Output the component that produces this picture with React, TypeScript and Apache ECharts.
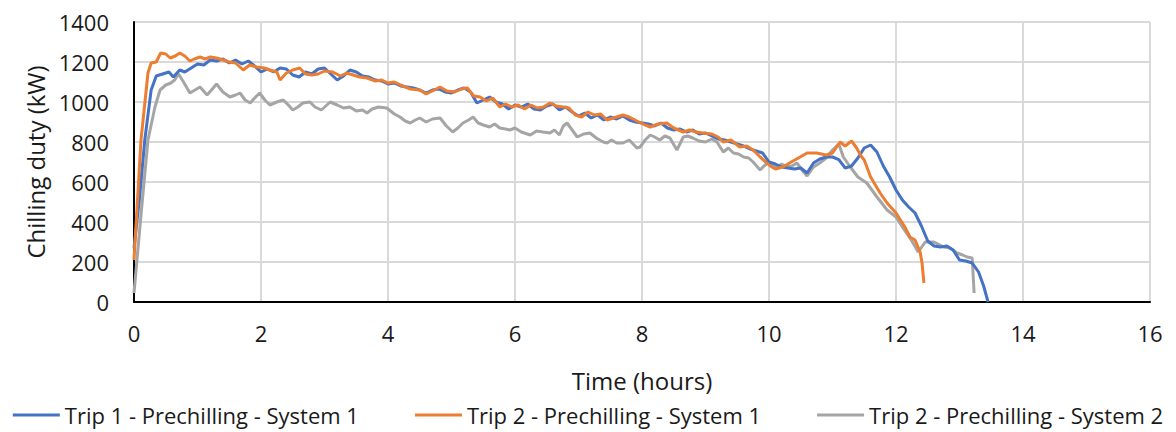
import React, { useEffect, useRef } from "react";
import * as echarts from "echarts";

const seriesNames = [
  "Trip 1 - Prechilling - System 1",
  "Trip 2 - Prechilling - System 1",
  "Trip 2 - Prechilling - System 2",
];
const colors = ["#4472c4", "#ed7d31", "#a5a5a5"];

const xTicks = [0, 2, 4, 6, 8, 10, 12, 14, 16];
const yTicks = [0, 200, 400, 600, 800, 1000, 1200, 1400];

// [time (hours), chilling duty (kW)]
const trip1Sys1: [number, number][] = [
  [0, 270], [0.08, 500], [0.17, 810], [0.27, 1060], [0.35, 1130], [0.45, 1140], [0.55, 1150], [0.62, 1125],
  [0.72, 1160], [0.8, 1150], [0.9, 1170], [1.0, 1190], [1.1, 1185], [1.2, 1210], [1.3, 1205], [1.4, 1215],
  [1.5, 1195], [1.6, 1210], [1.7, 1190], [1.8, 1205], [1.9, 1180], [2.0, 1150], [2.1, 1165], [2.2, 1150],
  [2.3, 1170], [2.4, 1165], [2.5, 1135], [2.6, 1125], [2.7, 1150], [2.8, 1140], [2.9, 1165], [3.0, 1170],
  [3.1, 1140], [3.2, 1110], [3.3, 1130], [3.4, 1160], [3.5, 1150], [3.6, 1130], [3.7, 1125], [3.8, 1110],
  [3.9, 1105], [4.0, 1090], [4.1, 1095], [4.2, 1080], [4.3, 1075], [4.4, 1070], [4.5, 1060], [4.6, 1045],
  [4.7, 1060], [4.8, 1065], [4.9, 1050], [5.0, 1045], [5.1, 1060], [5.2, 1070], [5.3, 1050], [5.4, 995],
  [5.5, 1010], [5.6, 1025], [5.7, 1000], [5.8, 990], [5.9, 965], [6.0, 985], [6.1, 975], [6.2, 990],
  [6.3, 965], [6.4, 960], [6.5, 980], [6.6, 990], [6.7, 960], [6.8, 975], [6.9, 950], [7.0, 930],
  [7.1, 945], [7.2, 920], [7.3, 935], [7.4, 910], [7.5, 925], [7.6, 915], [7.7, 930], [7.8, 910],
  [7.9, 900], [8.0, 895], [8.1, 890], [8.2, 880], [8.3, 895], [8.4, 870], [8.5, 860], [8.6, 865],
  [8.7, 850], [8.8, 860], [8.9, 840], [9.0, 845], [9.1, 830], [9.2, 815], [9.3, 810], [9.4, 800],
  [9.5, 790], [9.6, 780], [9.7, 765], [9.8, 755], [9.9, 745], [10.0, 700], [10.1, 690], [10.2, 675],
  [10.3, 670], [10.4, 665], [10.5, 670], [10.6, 645], [10.7, 695], [10.8, 715], [10.9, 725], [11.0, 725],
  [11.1, 712], [11.2, 670], [11.3, 680], [11.4, 720], [11.5, 770], [11.6, 785], [11.7, 750], [11.8, 680],
  [11.9, 625], [12.0, 560], [12.1, 510], [12.2, 475], [12.3, 445], [12.4, 380], [12.5, 305], [12.6, 280],
  [12.7, 275], [12.8, 280], [12.9, 260], [13.0, 210], [13.1, 205], [13.2, 195], [13.3, 150], [13.38, 80],
  [13.45, 0],
];

const trip2Sys1: [number, number][] = [
  [0, 210], [0.11, 810], [0.22, 1145], [0.27, 1195], [0.35, 1200], [0.42, 1245], [0.5, 1240], [0.57, 1220],
  [0.65, 1230], [0.72, 1245], [0.8, 1230], [0.88, 1205], [0.95, 1215], [1.04, 1225], [1.12, 1215], [1.2, 1225],
  [1.3, 1220], [1.4, 1210], [1.5, 1200], [1.6, 1195], [1.72, 1160], [1.82, 1185], [1.93, 1175], [2.05, 1170],
  [2.14, 1160], [2.25, 1150], [2.3, 1110], [2.4, 1145], [2.5, 1160], [2.61, 1170], [2.7, 1140], [2.8, 1135],
  [2.9, 1140], [3.0, 1155], [3.13, 1150], [3.25, 1130], [3.35, 1145], [3.45, 1135], [3.55, 1125], [3.67, 1120],
  [3.8, 1105], [3.9, 1110], [4.0, 1095], [4.1, 1100], [4.2, 1085], [4.35, 1065], [4.5, 1060], [4.6, 1040],
  [4.7, 1055], [4.82, 1075], [4.93, 1055], [5.05, 1050], [5.15, 1065], [5.25, 1070], [5.35, 1030], [5.45, 1025],
  [5.55, 1005], [5.65, 1020], [5.76, 975], [5.85, 990], [5.95, 975], [6.05, 985], [6.15, 965], [6.25, 985],
  [6.35, 970], [6.45, 975], [6.55, 995], [6.65, 980], [6.76, 975], [6.85, 970], [6.95, 935], [7.05, 925],
  [7.15, 950], [7.25, 935], [7.35, 940], [7.45, 910], [7.55, 920], [7.7, 935], [7.8, 925], [7.92, 905],
  [8.05, 885], [8.13, 875], [8.25, 890], [8.39, 895], [8.5, 870], [8.65, 850], [8.75, 860], [8.85, 850],
  [8.96, 845], [9.1, 840], [9.2, 825], [9.28, 800], [9.4, 810], [9.54, 775], [9.65, 780], [9.75, 760],
  [9.86, 725], [9.95, 700], [10.02, 680], [10.1, 665], [10.22, 675], [10.35, 700], [10.49, 725], [10.6, 745],
  [10.75, 745], [10.9, 735], [11.0, 745], [11.12, 800], [11.2, 780], [11.3, 805], [11.38, 770], [11.45, 730],
  [11.5, 710], [11.6, 625], [11.75, 545], [11.86, 495], [12.0, 445], [12.14, 375], [12.22, 325], [12.3, 310],
  [12.38, 250], [12.41, 195], [12.44, 95],
];

const trip2Sys2: [number, number][] = [
  [0, 45], [0.1, 400], [0.22, 810], [0.33, 975], [0.41, 1060], [0.5, 1085], [0.58, 1095], [0.64, 1110],
  [0.7, 1140], [0.78, 1100], [0.88, 1045], [0.96, 1060], [1.04, 1075], [1.15, 1035], [1.22, 1060], [1.3, 1090],
  [1.4, 1050], [1.51, 1025], [1.6, 1035], [1.67, 1045], [1.75, 1010], [1.83, 995], [1.9, 1020], [1.98, 1045],
  [2.06, 1010], [2.14, 985], [2.25, 1000], [2.35, 1010], [2.43, 985], [2.5, 960], [2.58, 975], [2.66, 995],
  [2.77, 1000], [2.85, 975], [2.95, 960], [3.02, 980], [3.09, 1000], [3.2, 985], [3.3, 970], [3.4, 975],
  [3.5, 955], [3.6, 960], [3.67, 945], [3.75, 965], [3.85, 975], [3.98, 970], [4.1, 940], [4.19, 925],
  [4.27, 905], [4.35, 895], [4.43, 910], [4.5, 920], [4.6, 900], [4.7, 915], [4.82, 920], [4.92, 880],
  [5.02, 850], [5.1, 870], [5.18, 895], [5.27, 910], [5.34, 925], [5.42, 895], [5.5, 885], [5.6, 875],
  [5.68, 890], [5.76, 870], [5.85, 865], [5.92, 860], [6.0, 870], [6.1, 850], [6.24, 835], [6.34, 855],
  [6.44, 850], [6.55, 845], [6.62, 860], [6.7, 835], [6.76, 880], [6.82, 895], [6.9, 860], [6.98, 825],
  [7.08, 840], [7.18, 845], [7.28, 820], [7.39, 800], [7.45, 795], [7.52, 810], [7.6, 795], [7.7, 795],
  [7.8, 810], [7.92, 770], [7.97, 775], [8.05, 810], [8.13, 835], [8.2, 825], [8.28, 810], [8.36, 830],
  [8.44, 820], [8.55, 760], [8.65, 825], [8.72, 830], [8.8, 820], [8.9, 805], [9.0, 800], [9.1, 815],
  [9.18, 800], [9.28, 750], [9.36, 770], [9.44, 745], [9.52, 740], [9.6, 725], [9.68, 720], [9.75, 700],
  [9.86, 660], [9.92, 680], [9.98, 695], [10.05, 680], [10.12, 675], [10.2, 690], [10.28, 675], [10.36, 680],
  [10.44, 695], [10.52, 660], [10.6, 630], [10.7, 675], [10.8, 695], [10.9, 720], [11.0, 760], [11.1, 790],
  [11.17, 725], [11.28, 675], [11.4, 625], [11.54, 595], [11.7, 525], [11.86, 460], [12.0, 425], [12.1, 375],
  [12.24, 310], [12.35, 250], [12.46, 300], [12.6, 300], [12.75, 275], [12.85, 270], [12.96, 245], [13.05, 235],
  [13.12, 225], [13.2, 220], [13.23, 45],
];

const allSeries = [trip1Sys1, trip2Sys1, trip2Sys2];

const FONT = "'Open Sans', 'Noto Sans', sans-serif";

export default function App() {
  const ref = useRef<HTMLDivElement>(null);
  useEffect(() => {
    if (!ref.current) return;
    const chart = echarts.init(ref.current, undefined, { renderer: "svg" });
    chart.setOption({
      animation: false,
      backgroundColor: "#ffffff",
      textStyle: { fontFamily: FONT },
      grid: { left: 134, right: 26, top: 22, bottom: 130, containLabel: false },
      xAxis: {
        type: "value",
        min: xTicks[0],
        max: xTicks[xTicks.length - 1],
        interval: 2,
        name: "Time (hours)",
        nameLocation: "middle",
        nameGap: 66,
        nameTextStyle: { fontSize: 24, color: "#1a1a1a", fontFamily: FONT },
        axisLine: { show: true, onZero: false, lineStyle: { color: "#000", width: 2 } },
        axisTick: { show: false },
        axisLabel: { fontSize: 22, color: "#1a1a1a", margin: 20, fontFamily: FONT },
        splitLine: { show: true, lineStyle: { color: "#d9d9d9", width: 2 } },
      },
      yAxis: {
        type: "value",
        min: yTicks[0],
        max: yTicks[yTicks.length - 1],
        interval: 200,
        name: "Chilling duty (kW)",
        nameLocation: "middle",
        nameGap: 84,
        nameTextStyle: { fontSize: 24, color: "#1a1a1a", fontFamily: FONT },
        axisLine: { show: true, lineStyle: { color: "#000", width: 2 } },
        axisTick: { show: false },
        axisLabel: {
          fontSize: 22,
          color: "#1a1a1a",
          margin: 25,
          fontFamily: FONT,
          formatter: (v: number) => String(v),
        },
        splitLine: { show: true, lineStyle: { color: "#d9d9d9", width: 2 } },
      },
      legend: {
        bottom: 6,
        left: "center",
        padding: 0,
        width: 1176,
        itemWidth: 47,
        itemHeight: 3,
        itemGap: 56,
        icon: "rect",
        textStyle: { fontSize: 22, color: "#1a1a1a", fontFamily: FONT },
        data: seriesNames,
      },
      series: allSeries.map((d, i) => ({
        name: seriesNames[i],
        type: "line",
        data: d,
        showSymbol: false,
        symbol: "none",
        color: colors[i],
        lineStyle: { width: 3, color: colors[i] },
        z: i === 2 ? 1 : i === 1 ? 3 : 2,
      })),
    });
    return () => chart.dispose();
  }, []);
  return (
    <div
      ref={ref}
      style={{ position: "fixed", left: 0, top: 0, width: 1176, height: 432 }}
    />
  );
}
